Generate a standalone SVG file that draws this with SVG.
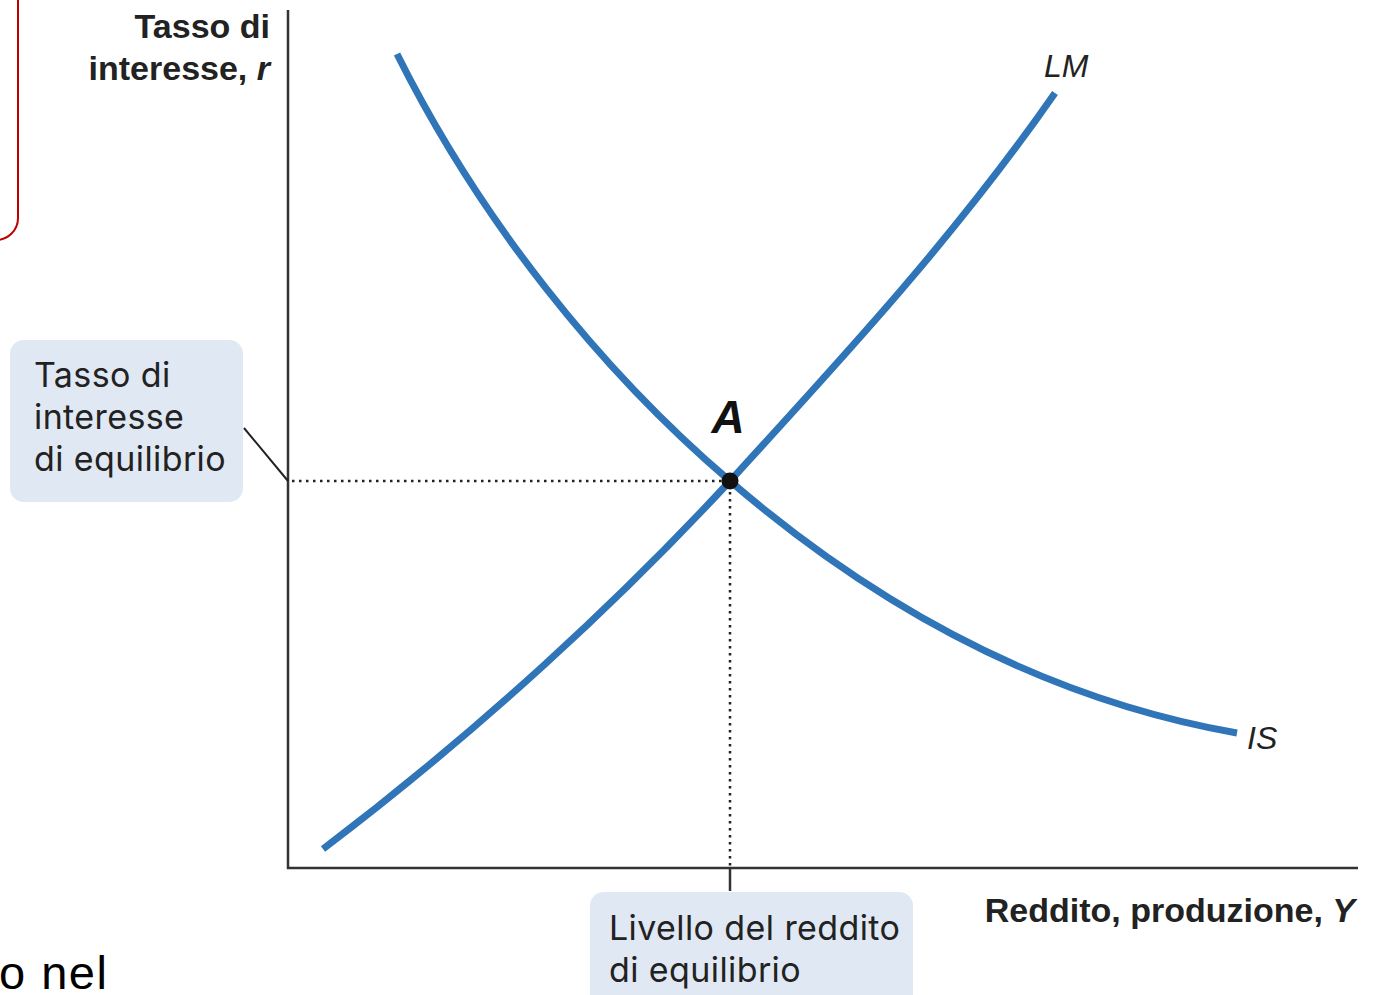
<svg xmlns="http://www.w3.org/2000/svg" width="1377" height="995" viewBox="0 0 1377 995">
<style>
.axis{stroke:#333;stroke-width:2.5;fill:none}
.curve{stroke:#2f75b8;stroke-width:7;fill:none}
.dot{stroke:#222;stroke-width:2.5;stroke-dasharray:2.5 4.5;fill:none}
.box{fill:#e0e8f3}
.lbl{font-family:Inter,"Noto Sans",sans-serif;font-size:34px;letter-spacing:0.4px;fill:#222}
.ax{font-family:"Liberation Sans",Arial,sans-serif;font-size:34px;font-weight:bold;fill:#222}
.cl{font-family:"Liberation Sans",Arial,sans-serif;font-size:32px;font-style:italic;fill:#222}
</style>
<rect width="1377" height="995" fill="#fff"/>
<g id="frame">
<rect x="-30" y="-30" width="48" height="270" rx="22" fill="none" stroke="#c00000" stroke-width="2"/>
<text x="-1" y="989" font-family="'Liberation Sans',Arial,sans-serif" font-size="47" letter-spacing="1.5" fill="#000">o nel</text>
</g>
<g id="axes">
<line class="axis" x1="288" y1="10" x2="288" y2="869"/>
<line class="axis" x1="287" y1="868" x2="1358" y2="868"/>
<line class="axis" x1="730" y1="868" x2="730" y2="891"/>
<text class="ax" x="270" y="38" text-anchor="end">Tasso di</text>
<text class="ax" x="270" y="80" text-anchor="end">interesse, <tspan font-style="italic">r</tspan></text>
<text class="ax" x="1355" y="922" text-anchor="end">Reddito, produzione, <tspan font-style="italic">Y</tspan></text>
</g>
<g id="connectors">
<line class="dot" x1="292" y1="481" x2="728" y2="481"/>
<line class="dot" x1="730" y1="485" x2="730" y2="866"/>
<line x1="244" y1="428" x2="288" y2="481" stroke="#222" stroke-width="2"/>
</g>
<g id="LM">
<path class="curve" d="M323,849 C480,730 620,600 730,481 C850,350 960,230 1055,93"/>
<text class="cl" x="1044" y="77">LM</text>
</g>
<g id="IS">
<path class="curve" d="M397,54 C480,220 600,370 730,481 C880,610 1050,700 1237,733"/>
<text class="cl" x="1247" y="749">IS</text>
</g>
<g id="pointA">
<circle cx="730" cy="481" r="8.5" fill="#111"/>
<text x="728" y="433" text-anchor="middle" font-family="'Liberation Sans',Arial,sans-serif" font-size="46" font-weight="bold" font-style="italic" fill="#111">A</text>
</g>
<g id="rate-label">
<rect class="box" x="10" y="340" width="233" height="162" rx="14"/>
<text class="lbl" x="34" y="387">Tasso di</text>
<text class="lbl" x="34" y="429">interesse</text>
<text class="lbl" x="34" y="471">di equilibrio</text>
</g>
<g id="income-label">
<rect class="box" x="590" y="892" width="323" height="120" rx="14"/>
<text class="lbl" x="609" y="940">Livello del reddito</text>
<text class="lbl" x="609" y="982">di equilibrio</text>
</g>
</svg>
